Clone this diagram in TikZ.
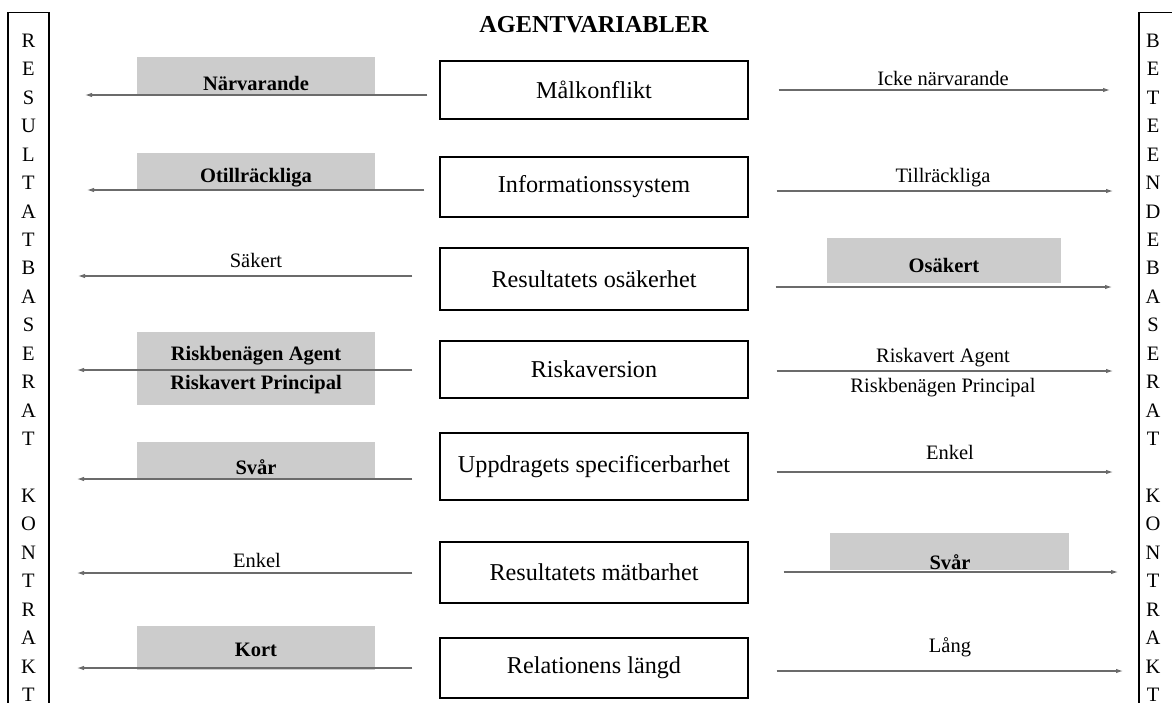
\documentclass[tikz,border=0pt]{standalone}
\usepackage{fontspec}
\setmainfont{Liberation Serif}
\usetikzlibrary{positioning,arrows.meta}

\begin{document}
\begin{tikzpicture}[x=1pt, y=-1pt, on grid,
    font=\fontsize{20.5}{24}\selectfont,
    var/.style={draw, line width=1.2pt, minimum width=308pt, inner sep=0pt,
      font=\fontsize{24.2}{28}\selectfont},
    grabox/.style={fill=black!20, inner sep=0pt, minimum width=238pt},
    fet/.style={font=\fontsize{20.5}{24}\selectfont\bfseries},
    pil/.style={-{Latex[length=7pt,width=4.5pt]}, draw=black!58, line width=1.1pt},
    vpil/.style={pil, shorten <=27pt},
    hpil/.style={pil, shorten <=28pt},
    kolumn/.style={draw, line width=1.2pt, minimum width=41pt, minimum height=720pt,
      anchor=north},
    bokstav/.style={align=center, inner sep=0pt, anchor=north,
      font=\fontsize{20.5}{28.45}\selectfont}]
  \useasboundingbox (0,0) rectangle (1172,702);

  % kontraktskolumner
  \node[kolumn] (lram) at (28.5,12) {};
  \node[kolumn] (rram) at (1159.5,12) {};
  \node[bokstav] (lord) at (28.5,33.7)
    {R\\E\\S\\U\\L\\T\\A\\T\\B\\A\\S\\E\\R\\A\\T\\[28.45pt]K\\O\\N\\T\\R\\A\\K\\T};
  \node[bokstav] (rord) at (1153,33.7)
    {B\\E\\T\\E\\E\\N\\D\\E\\B\\A\\S\\E\\R\\A\\T\\[28.45pt]K\\O\\N\\T\\R\\A\\K\\T};

  \node[font=\fontsize{24.3}{28}\selectfont\bfseries] (rubrik) at (594,25) {AGENTVARIABLER};

  % agentvariabler
  \node[var, minimum height=58pt] (mal) at (594,90) {Målkonflikt};
  \node[var, minimum height=60pt, below=97pt of mal] (info) {Informationssystem};
  \node[var, minimum height=62pt, below=92pt of info] (osak) {Resultatets osäkerhet};
  \node[var, minimum height=57pt, below=90.5pt of osak] (risk) {Riskaversion};
  \node[var, minimum height=67pt, below=97pt of risk] (uppdr) {Uppdragets specificerbarhet};
  \node[var, minimum height=61pt, below=106pt of uppdr] (matb) {Resultatets mätbarhet};
  \node[var, minimum height=60pt, below=95.5pt of matb] (rel) {Relationens längd};

  % resultatbaserat (vänster)
  \coordinate (l1) at (85,95);
  \coordinate (l2) at (87,190);
  \coordinate (l3) at (78,276);
  \coordinate (l4) at (77,370);
  \coordinate (l5) at (77,479);
  \coordinate (l6) at (77,573);
  \coordinate (l7) at (77,668);
  \node[grabox, minimum height=38pt] (lg1) at (256,76) {};
  \node[grabox, minimum height=37pt] (lg2) at (256,171.5) {};
  \node[grabox, minimum height=73pt] (lg4) at (256,368.5) {};
  \node[grabox, minimum height=37pt] (lg5) at (256,460.5) {};
  \node[grabox, minimum height=44pt] (lg7) at (256,648) {};
  \node[fet] (narv) at (256,83) {Närvarande};
  \node[fet] (otill) at (256,178) {Otillräckliga};
  \node (saker) at (256,260) {Säkert};
  \node[fet] (rbagent) at (256,356) {Riskbenägen Agent};
  \node[fet] (raprinc) at (256,385) {Riskavert Principal};
  \node[fet] (svarl) at (256,467) {Svår};
  \node (enkell) at (257,560) {Enkel};
  \node[fet] (kort) at (256,650) {Kort};
  \draw[vpil, shorten <=12pt] (mal.west |- l1) -- (l1);
  \draw[vpil, shorten <=15pt] (info.west |- l2) -- (l2);
  \draw[vpil] (osak.west |- l3) -- (l3);
  \draw[vpil] (risk.west |- l4) -- (l4);
  \draw[vpil] (uppdr.west |- l5) -- (l5);
  \draw[vpil] (matb.west |- l6) -- (l6);
  \draw[vpil] (rel.west |- l7) -- (l7);

  % beteendebaserat (höger)
  \coordinate (r1) at (1110,90);
  \coordinate (r2) at (1113,191);
  \coordinate (r3) at (1112,287);
  \coordinate (r4) at (1113,371);
  \coordinate (r5) at (1113,472);
  \coordinate (r6) at (1118,572);
  \coordinate (r7) at (1123,671);
  \node[grabox, minimum width=234pt, minimum height=45pt] (rg3) at (944,260.5) {};
  \node[grabox, minimum width=239pt, minimum height=37pt] (rg6) at (949.5,551.5) {};
  \node (icke) at (943,78) {Icke närvarande};
  \node (tillr) at (943,178) {Tillräckliga};
  \node[fet] (osaker) at (944,265) {Osäkert};
  \node (raagent) at (943,358) {Riskavert Agent};
  \node (rbprinc) at (943,388) {Riskbenägen Principal};
  \node (enkelr) at (950,452) {Enkel};
  \node[fet] (svarr) at (950,562) {Svår};
  \node (lang) at (950,647) {Lång};
  \draw[hpil, shorten <=30pt] (mal.east |- r1) -- (r1);
  \draw[hpil] (info.east |- r2) -- (r2);
  \draw[hpil, shorten <=27pt] (osak.east |- r3) -- (r3);
  \draw[hpil] (risk.east |- r4) -- (r4);
  \draw[hpil] (uppdr.east |- r5) -- (r5);
  \draw[hpil, shorten <=35pt] (matb.east |- r6) -- (r6);
  \draw[hpil] (rel.east |- r7) -- (r7);
\end{tikzpicture}
\end{document}
